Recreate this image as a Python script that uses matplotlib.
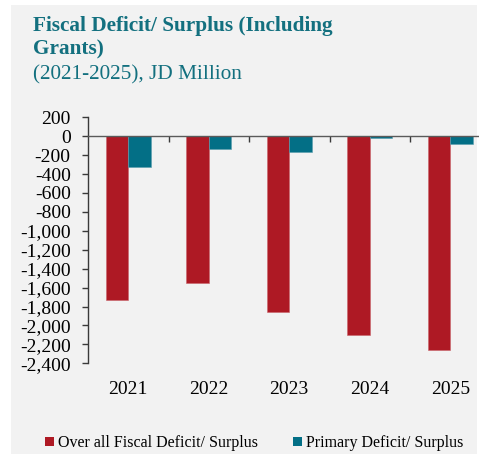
import matplotlib
matplotlib.use("Agg")
import matplotlib.pyplot as plt
from matplotlib.patches import Rectangle, Patch
from matplotlib.ticker import FuncFormatter, FixedLocator
import matplotlib.transforms as mtransforms

years = ["2021", "2022", "2023", "2024", "2025"]
overall = [-1733, -1553, -1859, -2099, -2257]
primary = [-327, -130, -162, -21, -77]
series_names = ["Over all Fiscal Deficit/ Surplus", "Primary Deficit/ Surplus"]
yticks = list(range(-2400, 201, 200))

RED = "#AE1924"
TEAL = "#036F86"
TITLE = "#13707F"
BG = "#F2F2F2"

plt.rcParams['font.family'] = ['Liberation Serif', 'DejaVu Serif']

W, H = 479, 454
fig = plt.figure(figsize=(W / 100, H / 100), dpi=100, facecolor="white")
fig.patches.append(Rectangle((11 / W, 0), (477 - 11) / W, (H - 5) / H,
                             transform=fig.transFigure, facecolor=BG,
                             edgecolor="none", zorder=-10))

left = 88 / W
right = 490.5 / W
top = 1 - 117.3 / H
bottom = 1 - 363.3 / H
ax = fig.add_axes([left, bottom, right - left, top - bottom])
ax.set_facecolor("none")

x = list(range(len(years)))
bw = 0.282
ax.bar([i - bw / 2 for i in x], overall, width=bw, color=RED,
       edgecolor="#C8646B", linewidth=0.4, label=series_names[0], zorder=2)
ax.bar([i + bw / 2 for i in x], primary, width=bw, color=TEAL,
       edgecolor="#5A9EAE", linewidth=0.4, label=series_names[1], zorder=2)

ax.set_xlim(-0.5, 4.5)
ax.set_ylim(-2400, 200)

for s in ["top", "right"]:
    ax.spines[s].set_visible(False)
ax.spines["left"].set_color("#3A3A3A")
ax.spines["left"].set_linewidth(1.0)
ax.spines["bottom"].set_position(("data", 0))
ax.spines["bottom"].set_color("#5A5A5A")
ax.spines["bottom"].set_linewidth(1.0)
ax.spines["bottom"].set_zorder(3)

ax.yaxis.set_major_locator(FixedLocator(yticks))
ax.yaxis.set_major_formatter(FuncFormatter(lambda v, p: f"{int(v):,}"))
ax.tick_params(axis="y", direction="out", length=4, width=1.0,
               color="#3A3A3A", pad=8.5, labelsize=14, labelcolor="black")

ax.xaxis.set_major_locator(FixedLocator([0.5, 1.5, 2.5, 3.5]))
ax.tick_params(axis="x", direction="out", length=4.5, width=1.0,
               color="#3A3A3A", labelbottom=False)

trans = mtransforms.blended_transform_factory(ax.transData, fig.transFigure)
for i, yr in enumerate(years):
    ax.text(i, 1 - 389 / H, yr, transform=trans, ha="center", va="center",
            fontsize=14, color="black")

fig.text(33 / W, 1 - 30.7 / H, "Fiscal Deficit/ Surplus (Including",
         fontsize=15.3, fontweight="bold", color=TITLE, va="baseline", ha="left")
fig.text(33 / W, 1 - 54.3 / H, "Grants)",
         fontsize=15.3, fontweight="bold", color=TITLE, va="baseline", ha="left")
fig.text(33 / W, 1 - 79 / H, "(2021-2025), JD Million",
         fontsize=15.3, color=TITLE, va="baseline", ha="left")

handles = [Patch(facecolor=RED, edgecolor="none"), Patch(facecolor=TEAL, edgecolor="none")]
fig.legend(handles, series_names, loc="center", bbox_to_anchor=(254.5 / W, 1 - 443 / H),
           ncol=2, frameon=False, fontsize=11.5, handlelength=0.55, handleheight=0.55,
           handletextpad=0.25, columnspacing=2.2, borderaxespad=0, borderpad=0)

fig.savefig("out.png", dpi=100, facecolor="white")
